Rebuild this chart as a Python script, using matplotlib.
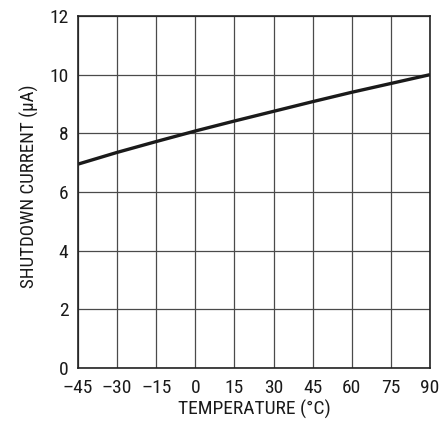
import numpy as np
import matplotlib
matplotlib.use("Agg")
import matplotlib.pyplot as plt

temperature = [-45, -30, -15, 0, 15, 30, 45, 60, 75, 90]
shutdown_current = [6.95, 7.35, 7.72, 8.08, 8.42, 8.75, 9.08, 9.40, 9.70, 10.0]

x_ticks = [-45, -30, -15, 0, 15, 30, 45, 60, 75, 90]
x_labels = ["\u201345", "\u201330", "\u201315", "0", "15", "30", "45", "60", "75", "90"]
y_ticks = [0, 2, 4, 6, 8, 10, 12]

plt.rcParams['font.family'] = ['Roboto Condensed', 'Archivo Narrow', 'DejaVu Sans']

fig = plt.figure(figsize=(4.42, 4.21), dpi=100)
ax = fig.add_axes([78 / 442, 1 - 368 / 421, 352 / 442, 352 / 421])

ax.plot(temperature, shutdown_current, color='#1a1a1a', linewidth=2.4, solid_capstyle='butt')

ax.set_xlim(-45, 90)
ax.set_ylim(0, 12)
ax.set_xticks(x_ticks)
ax.set_xticklabels(x_labels)
ax.set_yticks(y_ticks)
ax.grid(True, color='#4a4a4a', linewidth=0.9)
ax.tick_params(length=0, labelsize=14, colors='#1a1a1a')
ax.tick_params(axis='x', pad=8)
ax.tick_params(axis='y', pad=7)
for s in ax.spines.values():
    s.set_color('#222222')
    s.set_linewidth(1.2)

ax.set_xlabel("TEMPERATURE (\u00b0C)", fontsize=14, labelpad=2, color='#1a1a1a')
ax.set_ylabel("SHUTDOWN CURRENT (\u03bcA)", fontsize=13.6, color='#1a1a1a')
ax.yaxis.set_label_coords(-0.11, 0.517)

fig.savefig("out.png", dpi=100)
